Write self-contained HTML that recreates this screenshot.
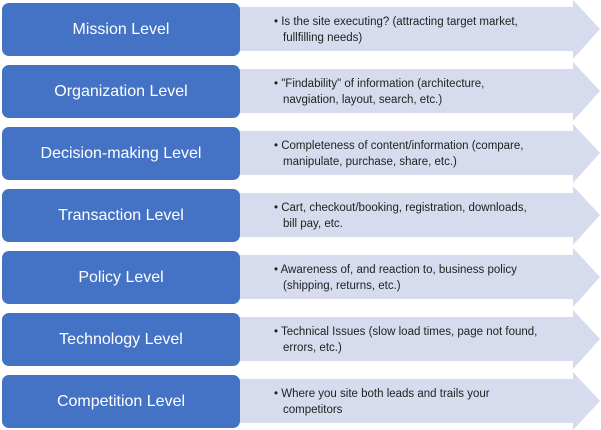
<!DOCTYPE html>
<html><head><style>
body{margin:0;width:601px;height:430px;background:#fff;position:relative;overflow:hidden;font-family:"Liberation Sans",sans-serif}
.box{position:absolute;left:2px;width:238px;height:53px;background:#4472C4;border-radius:7px;color:#fff;font-size:16px;display:flex;align-items:center;justify-content:center}
.txt{position:absolute;left:274px;font-size:11.5px;line-height:15.5px;color:#222;width:268px}
.txt span{display:block;padding-left:9px;text-indent:-9px}
svg{position:absolute;left:0;top:0}
</style></head><body>
<svg width="601" height="430">
<g fill="#D6DCEE">
<polygon points="238,7 573,7 573,0 600,29 573,59 573,51 238,51"/>
<polygon points="238,69 573,69 573,62 600,91 573,121 573,113 238,113"/>
<polygon points="238,131 573,131 573,124 600,153 573,183 573,175 238,175"/>
<polygon points="238,193 573,193 573,186 600,215 573,245 573,237 238,237"/>
<polygon points="238,255 573,255 573,248 600,277 573,307 573,299 238,299"/>
<polygon points="238,317 573,317 573,310 600,339 573,369 573,361 238,361"/>
<polygon points="238,379 573,379 573,372 600,401 573,430 573,423 238,423"/>
</g></svg>
<div class="box" style="top:3px">Mission Level</div>
<div class="box" style="top:65px">Organization Level</div>
<div class="box" style="top:127px">Decision-making Level</div>
<div class="box" style="top:189px">Transaction Level</div>
<div class="box" style="top:251px">Policy Level</div>
<div class="box" style="top:313px">Technology Level</div>
<div class="box" style="top:375px">Competition Level</div>
<div class="txt" style="top:15px"><span>• Is the site executing? (attracting target market, fullfilling needs)</span></div>
<div class="txt" style="top:77px"><span>• "Findability" of information (architecture, navgiation, layout, search, etc.)</span></div>
<div class="txt" style="top:139px"><span>• Completeness of content/information (compare, manipulate, purchase, share, etc.)</span></div>
<div class="txt" style="top:201px"><span>• Cart, checkout/booking, registration, downloads, bill pay, etc.</span></div>
<div class="txt" style="top:263px"><span>• Awareness of, and reaction to, business policy (shipping, returns, etc.)</span></div>
<div class="txt" style="top:325px"><span>• Technical Issues (slow load times, page not found, errors, etc.)</span></div>
<div class="txt" style="top:387px"><span>• Where you site both leads and trails your competitors</span></div>
</body></html>
